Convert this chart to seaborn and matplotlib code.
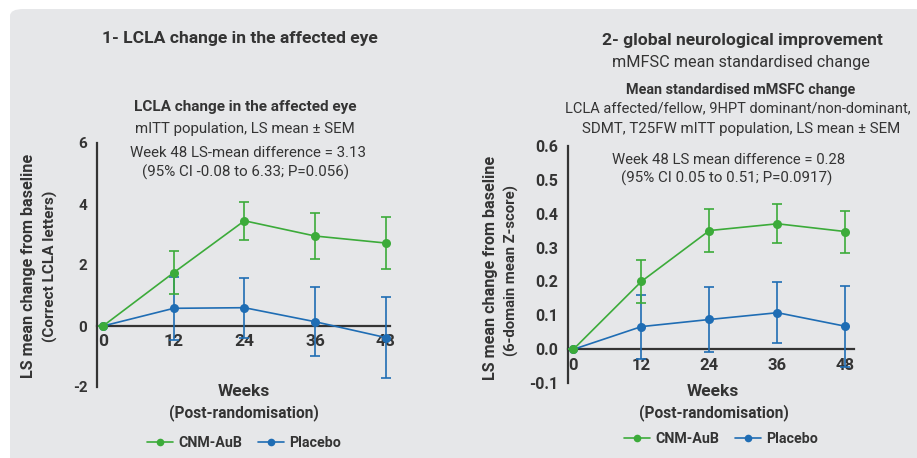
import numpy as np
import pandas as pd
import matplotlib.pyplot as plt
import seaborn as sns
from matplotlib.patches import FancyBboxPatch
from matplotlib.lines import Line2D

weeks = [0, 12, 24, 36, 48]

# panel 1: LCLA change in the affected eye
lcla_cnm = [0.0, 1.75, 3.45, 2.95, 2.72]
lcla_cnm_sem = [0.0, 0.70, 0.62, 0.75, 0.85]
lcla_pbo = [0.0, 0.58, 0.60, 0.14, -0.38]
lcla_pbo_sem = [0.0, 1.04, 0.99, 1.13, 1.32]

# panel 2: mMSFC mean standardised change
msfc_cnm = [0.0, 0.20, 0.35, 0.37, 0.347]
msfc_cnm_sem = [0.0, 0.062, 0.063, 0.057, 0.062]
msfc_pbo = [0.0, 0.067, 0.088, 0.108, 0.068]
msfc_pbo_sem = [0.0, 0.094, 0.096, 0.089, 0.12]

green = '#3cab3a'
blue = '#1f6db4'
ink = '#343434'
panel_bg = '#e6e7e9'

sns.set_theme(style='white')
plt.rcParams['font.family'] = ['Roboto', 'DejaVu Sans']
plt.rcParams['text.color'] = ink
plt.rcParams['axes.edgecolor'] = ink

W, H = 917, 458
fig = plt.figure(figsize=(W / 100, H / 100), dpi=100)
fig.patch.set_facecolor('white')
fig.patches.append(FancyBboxPatch((10 / W, -0.05), 1.0, 1.05 - 9 / H,
                                  boxstyle='round,pad=0,rounding_size=0.015',
                                  transform=fig.transFigure, facecolor=panel_bg,
                                  edgecolor='none', zorder=-10))


def ftext(px, py, s, size, bold=False, **kw):
    fig.text(px / W, 1 - py / H, s, fontsize=size,
             fontweight='bold' if bold else 'normal',
             ha='center', va='center', **kw)


def draw_panel(ax, cnm, cnm_sem, pbo, pbo_sem, xlim, ylim, yticks, yfmt,
               xtick_size, ytick_size):
    ax.set_facecolor('none')
    df = pd.DataFrame({
        'week': weeks * 2,
        'value': pbo + cnm,
        'group': ['Placebo'] * 5 + ['CNM-AuB'] * 5,
    })
    for grp, col, sem in [('Placebo', blue, pbo_sem), ('CNM-AuB', green, cnm_sem)]:
        sub = df[df['group'] == grp]
        ax.errorbar(sub['week'], sub['value'], yerr=sem, fmt='none',
                    ecolor=col, elinewidth=1.2, capsize=3.5, capthick=1.2, zorder=3)
        sns.lineplot(data=sub, x='week', y='value', color=col, marker='o',
                     markersize=6.5, markeredgewidth=0, linewidth=1.2, ax=ax,
                     zorder=4, legend=False)
    ax.set_xlim(*xlim)
    ax.set_ylim(*ylim)
    ax.spines['top'].set_visible(False)
    ax.spines['right'].set_visible(False)
    ax.spines['bottom'].set_position(('data', 0))
    ax.spines['left'].set_linewidth(1.6)
    ax.spines['bottom'].set_linewidth(1.6)
    ax.set_xticks(weeks)
    ax.set_yticks(yticks)
    ax.set_yticklabels([yfmt.format(t) for t in yticks])
    ax.tick_params(axis='x', direction='out', length=5, width=1.6, color=ink,
                   labelsize=xtick_size, pad=1, labelcolor=ink)
    ax.tick_params(axis='y', direction='out', length=5, width=1.6, color=ink,
                   labelsize=ytick_size, pad=2, labelcolor=ink)
    for lab in ax.get_xticklabels() + ax.get_yticklabels():
        lab.set_fontweight('bold')
    ax.set_xlabel('')
    ax.set_ylabel('')
    ax.grid(False)


ax1 = fig.add_axes([97 / W, 1 - 387 / H, 293 / W, 244 / H])
draw_panel(ax1, lcla_cnm, lcla_cnm_sem, lcla_pbo, lcla_pbo_sem,
           (-1.02, 48.7), (-2, 6), [-2, 0, 2, 4, 6], '{:g}', 12.5, 11)

ax2 = fig.add_axes([567.7 / W, 1 - 383.3 / H, 286.3 / W, 237.6 / H])
draw_panel(ax2, msfc_cnm, msfc_cnm_sem, msfc_pbo, msfc_pbo_sem,
           (-0.99, 49.5), (-0.1, 0.6), [-0.1, 0.0, 0.1, 0.2, 0.3, 0.4, 0.5, 0.6],
           '{:.1f}', 12, 11.5)

# left panel texts
ftext(240, 39, '1- LCLA change in the affected eye', 12.6, bold=True)
ftext(245, 107, 'LCLA change in the affected eye', 11, bold=True)
ftext(245, 129, 'mITT population, LS mean \u00b1 SEM', 10.8)
ftext(248, 153, 'Week 48 LS-mean difference = 3.13', 10.8)
ftext(246, 172, '(95% CI -0.08 to 6.33; P=0.056)', 10.9)
ftext(29, 266, 'LS mean change from baseline', 11.6, bold=True, rotation=90)
ftext(50, 266, '(Correct LCLA letters)', 11, bold=True, rotation=90)
ftext(244, 391, 'Weeks', 12.5, bold=True)
ftext(244, 413, '(Post-randomisation)', 11.2, bold=True)

# right panel texts
ftext(742, 40, '2- global neurological improvement', 12.6, bold=True)
ftext(741, 62, 'mMFSC mean standardised change', 11.7)
ftext(741, 90, 'Mean standardised mMSFC change', 10.4, bold=True)
ftext(738, 108, 'LCLA affected/fellow, 9HPT dominant/non-dominant,', 10.5)
ftext(741, 129, 'SDMT, T25FW mITT population, LS mean \u00b1 SEM', 10.8)
ftext(729, 160, 'Week 48 LS mean difference = 0.28', 10.7)
ftext(727, 178, '(95% CI 0.05 to 0.51; P=0.0917)', 10.9)
ftext(490, 268, 'LS mean change from baseline', 11.6, bold=True, rotation=90)
ftext(511, 270, '(6-domain mean Z-score)', 10.7, bold=True, rotation=90)
ftext(713, 391, 'Weeks', 12.5, bold=True)
ftext(714, 413, '(Post-randomisation)', 11.2, bold=True)

handles = [Line2D([], [], color=green, marker='o', markersize=5.5, markeredgewidth=0, linewidth=1.2),
           Line2D([], [], color=blue, marker='o', markersize=5.5, markeredgewidth=0, linewidth=1.2)]
for cx, cy in [(244, 443), (721, 439)]:
    fig.legend(handles, ['CNM-AuB', 'Placebo'], loc='center',
               bbox_to_anchor=(cx / W, 1 - cy / H), ncol=2, frameon=False,
               handlelength=1.8, handletextpad=0.4, columnspacing=1.1,
               prop={'weight': 'bold', 'size': 10.3})

fig.savefig('out.png', dpi=100, facecolor='white')
